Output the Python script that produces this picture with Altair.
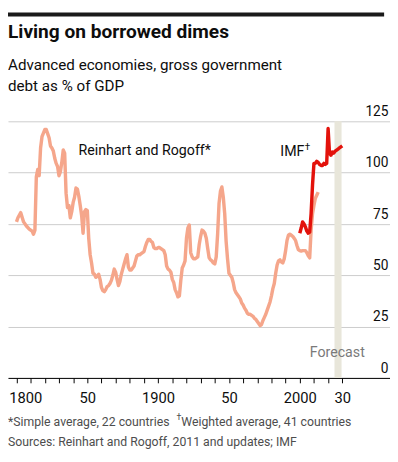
import altair as alt
import pandas as pd

# ---------------- text ----------------
TITLE = "Living on borrowed dimes"
SUBTITLE = ["Advanced economies, gross government", "debt as % of GDP"]
NOTE_1A = "*Simple average, 22 countries"
NOTE_1B = "Weighted average, 41 countries"
NOTE_2 = "Sources: Reinhart and Rogoff, 2011 and updates; IMF"
DAGGER = "\u2020"
RR_LABEL = "Reinhart and Rogoff*"
IMF_LABEL = "IMF"
FORECAST_LABEL = "Forecast"

# ---------------- data ----------------
RR_YEARS = [
    1800, 1801, 1803, 1805, 1807, 1809, 1811, 1812, 1813, 1814, 1815, 1816, 1817, 1818,
    1820, 1821, 1822, 1823, 1824, 1825, 1826, 1827, 1828, 1829, 1830, 1831, 1832, 1833,
    1834, 1835, 1836, 1837, 1838, 1839, 1840, 1841, 1842, 1843, 1844, 1845, 1846, 1847,
    1848, 1849, 1850, 1851, 1852, 1853, 1854, 1855, 1856, 1857, 1858, 1859, 1860, 1861,
    1862, 1863, 1864, 1865, 1866, 1867, 1868, 1869, 1870, 1871, 1872, 1873, 1874, 1875,
    1876, 1877, 1878, 1879, 1880, 1881, 1882, 1883, 1884, 1885, 1886, 1887, 1888, 1889,
    1890, 1891, 1892, 1893, 1894, 1895, 1896, 1897, 1898, 1899, 1900, 1901, 1902, 1903,
    1904, 1905, 1906, 1907, 1908, 1909, 1910, 1911, 1912, 1913, 1914, 1915, 1916, 1917,
    1918, 1919, 1920, 1921, 1922, 1923, 1924, 1925, 1926, 1927, 1928, 1929, 1930, 1931,
    1932, 1933, 1934, 1935, 1936, 1937, 1938, 1939, 1940, 1941, 1942, 1943, 1944, 1945,
    1946, 1947, 1948, 1949, 1950, 1951, 1952, 1953, 1954, 1955, 1956, 1957, 1958, 1959,
    1960, 1961, 1962, 1963, 1964, 1965, 1966, 1967, 1968, 1969, 1970, 1971, 1972, 1973,
    1974, 1975, 1976, 1977, 1978, 1979, 1980, 1981, 1982, 1983, 1984, 1985, 1986, 1987,
    1988, 1989, 1990, 1991, 1992, 1993, 1994, 1995, 1996, 1997, 1998, 1999, 2000, 2001,
    2002, 2003, 2004, 2005, 2006, 2007, 2008, 2009, 2010, 2011, 2012, 2013,
]
RR_VALUES = [
    76, 78, 80.5, 76, 74, 72.5, 71.5, 70, 72, 98, 101.5, 98.5, 112, 117.5,
    121, 121, 119, 117, 113, 112, 110.5, 107, 104.5, 103, 98.5, 100.5, 105, 111,
    109.5, 90, 83, 84, 78, 81, 85.5, 88, 92.5, 92, 88.5, 84, 79, 70.5,
    81, 82, 81.5, 68, 60, 56, 51, 50.5, 49, 49.5, 50.5, 48, 44, 42.5,
    42, 43, 44.5, 45, 46, 47.5, 50, 53, 51.5, 48, 45, 47, 50.5, 53,
    55.5, 58, 60, 54, 52.5, 52.5, 53.5, 54.5, 57, 59.5, 60, 60, 60.5, 61,
    61.5, 64, 66, 67.5, 67.5, 66.5, 66, 63.5, 63, 63, 63.5, 63.5, 63, 62.5,
    62, 60, 54.5, 53, 52.5, 51.5, 48, 46.5, 43, 41.5, 39.5, 40, 47.5, 53.5,
    55, 57, 68, 73, 74.5, 61, 59, 58, 58, 58.5, 59, 65, 69, 72,
    71.5, 70.5, 68, 63, 58.5, 57.5, 57, 56, 55.5, 59, 70, 85, 91, 93,
    88, 80, 66.5, 58, 51, 50, 49, 46.5, 43, 41.5, 40.5, 39.5, 38.5, 36.5,
    35.5, 34, 33, 31.5, 31, 31, 30.5, 30, 29, 28.5, 27.5, 26.5, 25.5, 26,
    28, 29.5, 31, 33, 35, 37, 40, 43.5, 46, 51, 55, 57, 57.5, 56.5,
    56, 58, 62, 67, 69.5, 70, 69.5, 69, 68, 67, 64.5, 62.5, 62, 61.8,
    62, 62, 62, 61, 59.5, 58.5, 72, 80, 84, 87.5, 89, 90.5,
]
IMF_YEARS = list(range(2000, 2031))
IMF_VALUES = [
    70.5, 73, 76, 75, 73.5, 71.5, 70.5, 71, 80, 94,
    104.5, 104.5, 105.5, 105, 104, 103.5, 103.5, 104.5, 104, 104.5,
    121.5, 109.5, 108.5, 110, 109.5, 110.5, 111, 111.5, 112, 112.5, 113,
]
FORECAST_START = 2024.5
FORECAST_END = 2029.5

Y_TICKS = [0, 25, 50, 75, 100, 125]
X_TICKS = list(range(1800, 2031, 10))
X_LABEL_YEARS = [1800, 1850, 1900, 1950, 2000, 2030]
X_LABEL_TEXT = ["1800", "50", "1900", "50", "2000", "30"]

# ---------------- layout / style ----------------
W, H = 390, 262
FONT = "Roboto"
SALMON = "#f5a68b"
RED = "#e3120b"
INK = "#0d0d0d"

rr = pd.DataFrame({"year": RR_YEARS, "value": RR_VALUES})
imf = pd.DataFrame({"year": IMF_YEARS, "value": IMF_VALUES})
band = pd.DataFrame({"start": [FORECAST_START], "end": [FORECAST_END]})

label_expr = " : ".join(
    f"datum.value == {y} ? '{t}'" for y, t in zip(X_LABEL_YEARS, X_LABEL_TEXT)
) + " : ''"

xscale = alt.Scale(domain=[1794, 2063.7], nice=False, zero=False)
yscale = alt.Scale(domain=[0, 125], nice=False, zero=True)

x_axis = alt.Axis(
    values=X_TICKS, labelExpr=label_expr, title=None, grid=False,
    domain=True, domainColor="#000000", domainWidth=1,
    ticks=True, tickColor="#000000", tickSize=5, tickWidth=1,
    labelFont=FONT, labelFontSize=15, labelColor=INK, labelPadding=8,
    labelFlush=10, labelFlushOffset=8, labelOverlap=False,
)
y_axis = alt.Axis(
    orient="right", values=Y_TICKS, title=None, domain=False, ticks=False, tickSize=0,
    grid=True, gridColor="#cccccc", gridWidth=1,
    labelAlign="right", labelBaseline="alphabetic", labelPadding=-2, labelOffset=-6,
    labelFont=FONT, labelFontSize=14, labelColor=INK,
)

band_layer = alt.Chart(band).mark_rect(color="#e8e6da").encode(
    x=alt.X("start:Q", scale=xscale, axis=x_axis),
    x2="end:Q",
    y=alt.value(0),
    y2=alt.value(H),
)

rr_layer = alt.Chart(rr).mark_line(
    color=SALMON, strokeWidth=3.5, strokeJoin="round", strokeCap="butt"
).encode(
    x=alt.X("year:Q", scale=xscale, axis=x_axis),
    y=alt.Y("value:Q", scale=yscale, axis=y_axis),
)

imf_layer = alt.Chart(imf).mark_line(
    color=RED, strokeWidth=3.5, strokeJoin="round", strokeCap="butt"
).encode(
    x=alt.X("year:Q", scale=xscale, axis=x_axis),
    y=alt.Y("value:Q", scale=yscale, axis=y_axis),
)


def text_layer(text, x, y, size, weight="normal", color=INK, align="left"):
    return alt.Chart(pd.DataFrame({"t": [text]})).mark_text(
        font=FONT, fontSize=size, fontWeight=weight, color=color,
        align=align, baseline="alphabetic",
    ).encode(text="t:N", x=alt.value(x), y=alt.value(y))


top_bar = alt.Chart(pd.DataFrame({"k": [0]})).mark_rect(color="#1a1a1a").encode(
    x=alt.value(0), x2=alt.value(384), y=alt.value(-111), y2=alt.value(-107)
)

texts = [
    text_layer(TITLE, 0, -85, 19.5, weight="bold"),
    text_layer(SUBTITLE[0], 0, -52, 15.5),
    text_layer(SUBTITLE[1], 0, -31, 15.5),
    text_layer(RR_LABEL, 72, 34, 14.5),
    text_layer(IMF_LABEL, 278, 35, 14.5),
    text_layer(DAGGER, 303, 29, 10),
    text_layer(FORECAST_LABEL, 308, 241, 14.5, color="#7a7a7a"),
    text_layer(NOTE_1A, 0, 311, 12.5, color="#4d4d4d"),
    text_layer(DAGGER, 172, 305, 9, color="#4d4d4d"),
    text_layer(NOTE_1B, 177, 311, 12.5, color="#4d4d4d"),
    text_layer(NOTE_2, 0, 332, 12.5, color="#4d4d4d"),
]

chart = alt.layer(band_layer, rr_layer, imf_layer, top_bar, *texts).properties(
    width=W,
    height=H,
    padding={"top": 111, "left": 0, "right": 0, "bottom": 73},
    autosize=alt.AutoSizeParams(type="none"),
    background="white",
).configure_view(stroke=None)

chart.save("out.html", embed_options={"renderer": "svg", "actions": False})
